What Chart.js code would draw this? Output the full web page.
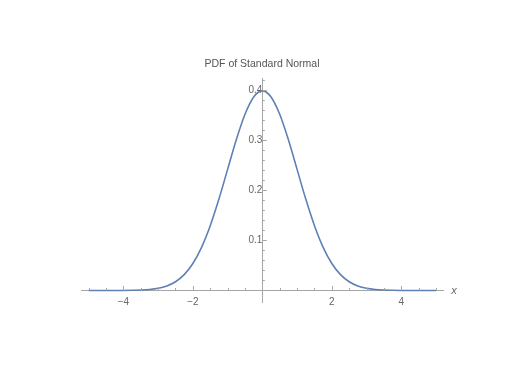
<!DOCTYPE html>
<html>
<head>
<meta charset="utf-8">
<script src="https://cdn.jsdelivr.net/npm/chart.js@4/dist/chart.umd.min.js"></script>
<style>
  html, body { margin: 0; padding: 0; background: #fff; }
  #wrap { width: 528px; height: 384px; }
</style>
</head>
<body>
<div id="wrap"><canvas id="pdfChart"></canvas></div>
<script>
// values
const xValues = [-5, -4.75, -4.5, -4.25, -4, -3.75, -3.5, -3.25, -3, -2.75, -2.5, -2.25, -2, -1.75, -1.5, -1.25, -1, -0.75, -0.5, -0.25,
    0, 0.25, 0.5, 0.75, 1, 1.25, 1.5, 1.75, 2, 2.25, 2.5, 2.75, 3, 3.25, 3.5, 3.75, 4, 4.25, 4.5, 4.75, 5];
const pdfValues = [0.0000, 0.0000, 0.0000, 0.0000, 0.0001, 0.0004, 0.0009, 0.0020, 0.0044, 0.0091, 0.0175, 0.0317, 0.0540, 0.0863, 0.1295, 0.1826, 0.2420, 0.3011, 0.3521, 0.3867,
    0.3989, 0.3867, 0.3521, 0.3011, 0.2420, 0.1826, 0.1295, 0.0863, 0.0540, 0.0317, 0.0175, 0.0091, 0.0044, 0.0020, 0.0009, 0.0004, 0.0001, 0.0000, 0.0000, 0.0000, 0.0000];
const xTicks = [-4, -2, 2, 4];
const yTicks = [0.1, 0.2, 0.3, 0.4];

const axisGray = '#a6a6a6';
const labelGray = '#666';

const fmt = (v) => String(v).replace('-', '\u2212');

// Mathematica style ticks: pointing into the plot, minor every 0.5 / 0.02
const tickPlugin = {
    id: 'inwardTicks',
    afterDraw(chart) {
        const c = chart.ctx;
        const xs = chart.scales.x, ys = chart.scales.y;
        const x0 = xs.getPixelForValue(0), y0 = ys.getPixelForValue(0);
        c.save();
        c.strokeStyle = axisGray;
        c.lineWidth = 1;
        c.beginPath();
        for (let i = -10; i <= 10; i++) {
            if (i === 0) continue;
            const px = Math.round(xs.getPixelForValue(i / 2)) + 0.5;
            const len = i % 4 === 0 ? 4.5 : 2.5;
            c.moveTo(px, y0);
            c.lineTo(px, y0 - len);
        }
        for (let j = 1; j <= 21; j++) {
            const py = Math.round(ys.getPixelForValue(j * 0.02)) + 0.5;
            const len = j % 5 === 0 ? 4.5 : 2.5;
            c.moveTo(x0, py);
            c.lineTo(x0 + len, py);
        }
        c.stroke();
        c.fillStyle = labelGray;
        c.font = 'italic 11px "Liberation Sans", Arial, sans-serif';
        c.textAlign = 'center';
        c.textBaseline = 'middle';
        c.fillText('x', xs.right + 11, y0);
        c.restore();
    }
};

const ctx = document.getElementById('pdfChart').getContext('2d');
const pdfChart = new Chart(ctx, {
    type: 'line',
    data: {
        labels: xValues,
        datasets: [{
            label: 'PDF',
            data: xValues.map((x, i) => ({ x: x, y: pdfValues[i] })),
            borderColor: '#5e81b5',
            borderWidth: 1.6,
            pointRadius: 0,
            cubicInterpolationMode: 'monotone',
            fill: false
        }]
    },
    options: {
        responsive: true,
        maintainAspectRatio: false,
        animation: false,
        layout: { padding: { left: 81, right: 85, top: 58, bottom: 82 } },
        plugins: {
            legend: { display: false },
            tooltip: { enabled: false },
            title: {
                display: true,
                text: 'PDF of Standard Normal',
                color: '#555',
                font: { family: '"Liberation Sans", Arial, sans-serif', size: 10.5, weight: 'normal' },
                padding: { top: 0, bottom: 7.7 }
            }
        },
        scales: {
            x: {
                type: 'linear',
                position: { y: 0 },
                min: -5.22,
                max: 5.2,
                afterBuildTicks: (s) => { s.ticks = xTicks.map(v => ({ value: v })); },
                afterFit: (s) => { s.height = 0; },
                grid: { drawOnChartArea: false, drawTicks: false },
                border: { color: axisGray, width: 1 },
                ticks: {
                    color: labelGray,
                    padding: 5.5,
                    maxRotation: 0,
                    autoSkip: false,
                    font: { family: '"Liberation Sans", Arial, sans-serif', size: 10 },
                    callback: (v) => fmt(v)
                }
            },
            y: {
                type: 'linear',
                position: { x: 0 },
                min: -0.023,
                max: 0.424,
                afterBuildTicks: (s) => { s.ticks = yTicks.map(v => ({ value: v })); },
                afterFit: (s) => { s.width = 0; },
                grid: { drawOnChartArea: false, drawTicks: false },
                border: { color: axisGray, width: 1 },
                ticks: {
                    color: labelGray,
                    padding: 5,
                    autoSkip: false,
                    font: { family: '"Liberation Sans", Arial, sans-serif', size: 10 },
                    callback: (v) => v.toFixed(1)
                }
            }
        }
    },
    plugins: [tickPlugin]
});
</script>
</body>
</html>
